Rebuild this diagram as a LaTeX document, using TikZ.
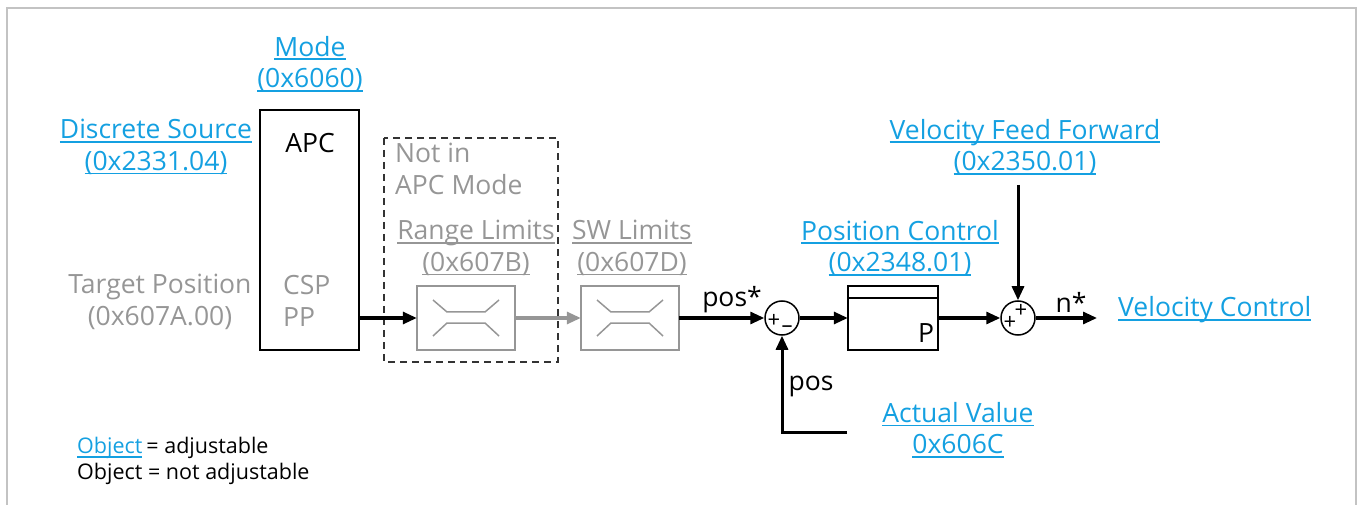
\documentclass[tikz,border=0pt]{standalone}
\usepackage{fontspec}
\setmainfont{Open Sans}
\usetikzlibrary{arrows.meta}
\definecolor{lnk}{RGB}{20,160,225}
\definecolor{gtx}{RGB}{150,150,150}
\definecolor{frm}{RGB}{195,195,195}
\newcommand\ulk[1]{\setbox0\hbox{#1}\rlap{\rule[-4pt]{\wd0}{1.8pt}}\box0}
\begin{document}
\begin{tikzpicture}[x=1pt,y=-1pt,
  txt/.style={font=\fontsize{26.5}{31.5}\selectfont, inner sep=0pt, align=center},
  link/.style={txt, text=lnk},
  gtext/.style={txt, text=gtx},
  btext/.style={txt, text=black},
  conn/.style={line width=3pt, -{Triangle[length=14pt,width=12pt]}},
  blk/.style={draw, line width=1.8pt},
  sg/.style={font=\fontsize{22}{22}\selectfont, inner sep=0pt},
  sumc/.style={draw, circle, line width=1.5pt, minimum size=34pt, inner sep=0pt}]
\useasboundingbox (0,0) rectangle (1361,505);
\draw[frm, line width=2pt] (7,520) -- (7,8) -- (1356,8) -- (1356,520);

% labels
\node[link] (mode) at (310,64) {\ulk{Mode}\\\ulk{(0x6060)}};
\node[link] (disc) at (156,147) {\ulk{Discrete Source}\\\ulk{(0x2331.04)}};
\node[gtext] (tgt) at (160,302) {Target Position\\(0x607A.00)};

% APC box
\draw[blk] (260,110) rectangle (359,350);
\node[btext] (apc) at (310,143) {APC};
\node[gtext, anchor=west, align=left] (csp) at (283,301) {CSP\\PP};
\coordinate (apcout) at (359,318);

% dashed group
\draw[line width=1.5pt, dash pattern=on 7pt off 5pt, black!80] (384,138) rectangle (558,362);
\node[gtext, anchor=north west, align=left] (notin) at (395,143) {Not in\\APC Mode};
\node[gtext] (rl) at (476,248) {\ulk{Range Limits}\\\ulk{(0x607B)}};
\node[gtext] (swl) at (632,248) {\ulk{SW Limits}\\\ulk{(0x607D)}};

% limiter blocks
\foreach \n/\x in {lim1/417, lim2/581}{
  \draw[gtx, line width=1.8pt] (\x,286) rectangle ++(98,64);
  \node[inner sep=0pt, minimum width=98pt, minimum height=64pt] (\n) at (\x+49,318) {};
  \draw[gtx, line width=1.5pt] (\x+16,300) -- (\x+30,312) -- (\x+68,312) -- (\x+82,300);
  \draw[gtx, line width=1.5pt] (\x+16,336) -- (\x+30,323) -- (\x+68,323) -- (\x+82,336);
}

% summations
\node[sumc] (s1) at (782,318) {};
\node[sg] at (774,321) {+};
\node[sg] at (787,329) {–};
\node[sumc] (s2) at (1018,318) {};
\node[sg] at (1010,323) {+};
\node[sg] at (1021,311) {+};

% P block
\draw[blk] (848,286) rectangle (938,350);
\draw[line width=1.5pt] (848,298) -- (938,298);
\node[inner sep=0pt, minimum width=90pt, minimum height=64pt] (pb) at (893,318) {};
\node[btext] (plab) at (926,333) {P};
\node[link] (pc) at (900,248) {\ulk{Position Control}\\\ulk{(0x2348.01)}};

% velocity FF
\node[link] (vff) at (1025,147) {\ulk{Velocity Feed Forward}\\\ulk{(0x2350.01)}};
\coordinate (vfft) at (1018,185);
\coordinate (nend) at (1097,318);
\node[link, anchor=west] (vc) at (1118,310) {\ulk{Velocity Control}};

% actual value
\node[link] (act) at (958,430) {\ulk{Actual Value}\\\ulk{0x606C}};
\coordinate (fb) at (847,432);

% connectors
\draw[conn] (apcout) -- (lim1.west);
\draw[conn, gtx] (lim1.east) -- (lim2.west);
\draw[conn] (lim2.east) -- (s1.west);
\node[btext] (posstar) at (732,300) {pos*};
\draw[conn] (s1.east) -- (pb.west);
\draw[conn] (pb.east) -- (s2.west);
\draw[conn] (vfft) -- (s2.north);
\draw[conn] (s2.east) -- (nend);
\node[btext] (nstar) at (1071,302) {n*};
\draw[conn] (fb) -| (s1.south);
\node[btext] (pos) at (811,386) {pos};

% legend
\node[font=\fontsize{21.5}{26}\selectfont, anchor=west, inner sep=0pt, text=lnk] (lo1) at (77,448) {\ulk{Object}};
\node[font=\fontsize{21.5}{26}\selectfont, anchor=west, inner sep=0pt] (lt1) at (lo1.east) {\,= adjustable};
\node[font=\fontsize{21.5}{26}\selectfont, anchor=west, inner sep=0pt] (lt2) at (77,474) {Object = not adjustable};
\end{tikzpicture}
\end{document}
